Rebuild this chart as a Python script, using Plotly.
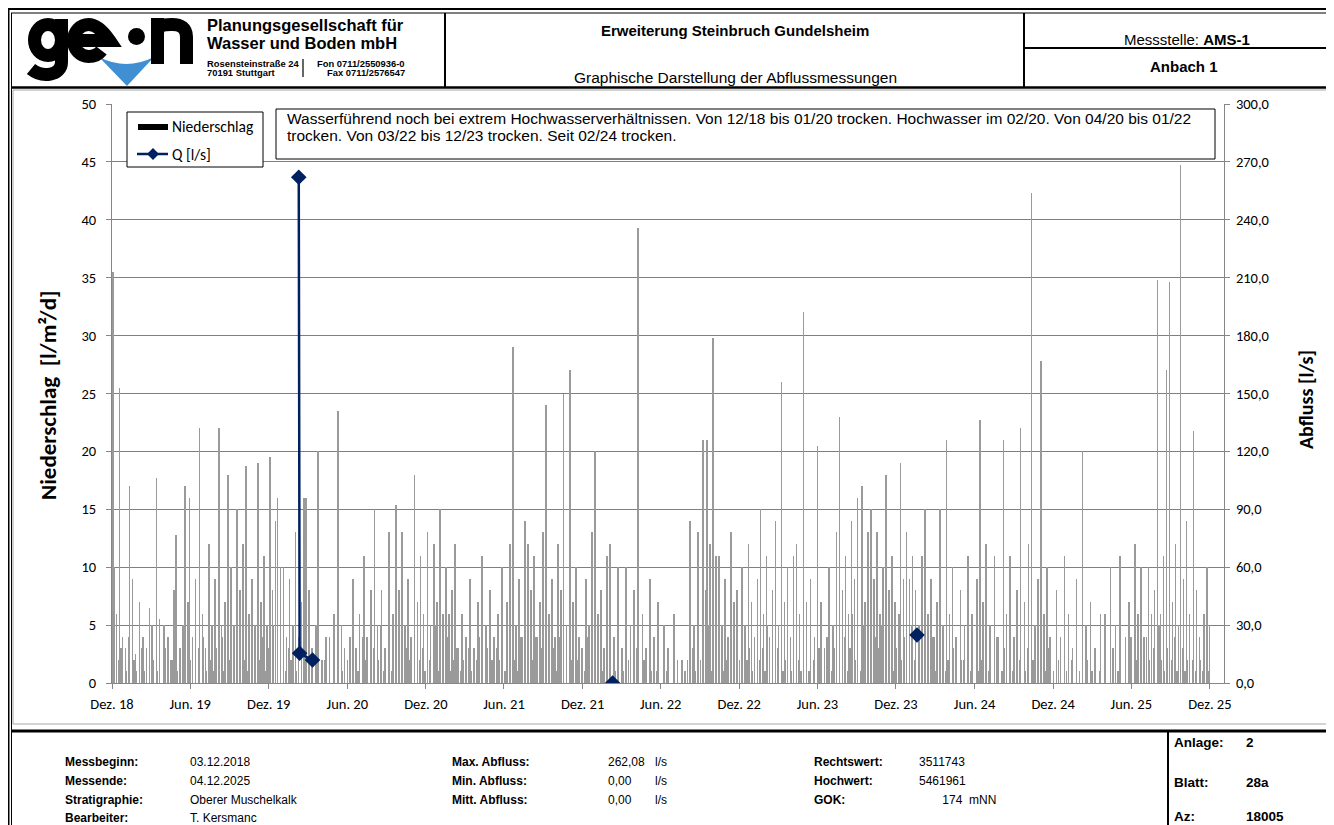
import pandas as pd
import plotly.graph_objects as go

# precipitation peaks (day number since Messbeginn 03.12.2018, mm per day)
rain_day = [2, 6, 11, 18, 25, 32, 41, 48, 55, 64, 72, 81, 88, 97, 104, 111, 121, 130, 137, 144, 149, 158, 165, 170, 177, 181,
            188, 195, 204, 211, 218, 226, 233, 240, 249, 256, 263, 270, 277, 284, 291, 298, 305, 312, 319, 326, 333, 340, 347, 354, 361,
            368, 374, 381, 386, 393, 400, 407, 414, 421, 428, 442, 447, 452, 459, 466, 475, 480, 489, 498, 507, 517, 526, 535, 542,
            554, 561, 568, 577, 587, 594, 603, 612, 619, 628, 636, 645, 654, 661, 668, 675, 682, 689, 696, 705, 712, 719, 726,
            735, 742, 750, 757, 764, 771, 778, 785, 792, 799, 806, 815, 825, 834, 843, 852, 862, 871, 880, 890, 899, 908,
            920, 927, 934, 941, 948, 955, 962, 969, 976, 983, 990, 997, 1004, 1011, 1018, 1025, 1032, 1039, 1046, 1051, 1058, 1067, 1074, 1081, 1088,
            1104, 1111, 1118, 1125, 1132, 1139, 1146, 1153, 1160, 1169, 1179, 1188, 1197, 1207, 1216, 1225, 1235, 1244, 1253, 1262, 1272,
            1286, 1295, 1309, 1328, 1346, 1356, 1365, 1377, 1382, 1386, 1393, 1400, 1407, 1414, 1421, 1428, 1435, 1442, 1449, 1456,
            1467, 1475, 1482, 1489, 1496, 1503, 1510, 1517, 1524, 1531, 1538, 1545, 1552, 1559, 1566, 1573, 1580, 1587, 1594, 1601, 1610, 1617, 1627, 1636, 1643,
            1651, 1660, 1670, 1679, 1688, 1695, 1702, 1709, 1716, 1723, 1730, 1737, 1747, 1754, 1761, 1768, 1775, 1782, 1789, 1796, 1803, 1810, 1817, 1824,
            1836, 1843, 1850, 1857, 1864, 1871, 1880, 1887, 1894, 1901, 1908, 1915, 1922, 1929, 1936, 1943, 1950, 1957, 1966, 1976, 1985, 1994, 2003,
            2015, 2022, 2029, 2036, 2045, 2055, 2064, 2076, 2083, 2092, 2101, 2108, 2116, 2125, 2134, 2141, 2150, 2157, 2164, 2171, 2178, 2185,
            2200, 2209, 2218, 2228, 2237, 2246, 2260, 2269, 2279, 2290, 2302, 2313, 2325, 2337, 2348, 2360, 2369,
            2383, 2390, 2397, 2404, 2414, 2421, 2428, 2435, 2442, 2449, 2456, 2463, 2470, 2477, 2484, 2489, 2496, 2503, 2510, 2519, 2526, 2533, 2543, 2550, 2556]
rain_mm = [35.5, 10, 6, 25.5, 4, 3, 17, 9, 2.5, 7, 4, 3, 6.5, 2, 17.7, 3.5, 5, 4, 2, 8, 12.8, 3, 5, 17, 6, 16,
           4, 8, 22, 6, 3, 12, 5, 9, 22, 4, 7, 18, 10, 5, 14, 8, 12, 18.7, 6, 9, 4, 19, 7, 11, 5,
           19.5, 8, 12, 16, 6, 10, 4, 9, 5, 13, 7, 14, 16, 7, 3, 5, 20, 2, 4, 3, 6, 23.5, 5, 3,
           4, 9, 3, 6, 11, 4, 7, 15, 5, 8, 3, 10, 6, 15.4, 8, 12, 5, 9, 4, 17, 7, 11, 6,
           9, 5, 12, 7, 15, 4, 10, 6, 8, 12, 3, 6, 4, 9, 3, 7, 11, 5, 8, 4, 6, 10,
           7, 12, 29, 5, 9, 4, 14, 6, 8, 11, 4, 7, 13, 19, 6, 9, 4, 12, 8, 25, 5, 27, 7, 10, 4,
           9, 5, 13, 20, 6, 8, 3, 11, 12, 4, 7, 3, 10, 5, 8, 39.3, 6, 3, 9, 4, 7,
           5, 3, 6, 2, 14, 5, 9, 21, 8, 21, 12, 29.8, 7, 11, 5, 9, 4, 13, 6, 8,
           10, 5, 12, 7, 4, 9, 15, 6, 11, 4, 8, 13, 5, 26, 7, 10, 4, 8, 12, 6, 32, 5, 9, 4, 20.5,
           7, 3, 10, 5, 13, 18, 8, 11, 6, 14, 9, 12, 17, 7, 11, 15, 9, 13, 6, 10, 14, 8, 11, 7,
           19, 9, 13, 6, 11, 8, 5, 10, 15, 6, 9, 4, 7, 12, 5, 21, 6, 10, 4, 8, 5, 11, 6,
           9, 22.7, 7, 12, 5, 9, 4, 21, 6, 11, 4, 8, 22, 7, 12, 42.3, 5, 9, 27.8, 6, 10, 4,
           8, 4, 11, 6, 3, 9, 20, 5, 7, 3, 6, 4, 9, 5, 11, 4, 7,
           12, 6, 9, 4, 10, 5, 8, 34.8, 6, 11, 27, 34.6, 7, 12, 5, 44.7, 9, 14, 6, 21.8, 8, 4, 6, 10, 5]

rain_small_mm = [
    1, 0, 2, 3, 0, 1, 4, 0, 2, 1, 0, 3, 1, 0, 2, 5, 0, 1, 2, 0, 3, 1, 0, 2, 0, 1, 3, 0, 2, 1,
    2, 0, 1, 3, 0, 4, 1, 0, 2, 1, 3, 0, 5, 1, 0, 2, 3, 0, 1, 4, 0, 2, 1, 0, 3, 1, 0, 2, 4, 1,
    3, 1, 5, 2, 0, 4, 6, 1, 3, 2, 5, 1, 4, 7, 2, 3, 1, 0, 0, 1, 0, 0, 2, 0, 1, 0, 0, 3, 0, 1,
    0, 2, 1, 0, 3, 1, 0, 4, 2, 0, 1, 3, 0, 2, 5, 1, 0, 3, 1, 0, 2, 4, 1, 0, 3, 2, 0, 1, 4, 2,
    3, 1, 4, 2, 0, 5, 1, 3, 2, 0, 4, 1, 2, 3, 0, 1, 2, 0, 3, 1, 0, 2, 4, 1, 0, 3, 1, 2, 0, 3,
    2, 4, 1, 3, 0, 5, 2, 1, 4, 0, 3, 6, 1, 2, 4, 0, 3, 1, 5, 2, 0, 3, 1, 4, 2, 0, 1, 3, 2, 0,
    2, 0, 3, 1, 4, 0, 1, 0, 2, 0, 1, 0, 0, 2, 0, 1, 3, 0, 1, 0, 2, 0, 1, 3, 0, 0, 2, 1, 0, 1,
    0, 1, 0, 0, 0, 1, 0, 0, 0, 2, 0, 0, 1, 2, 0, 3, 1, 4, 2, 0, 3, 5, 1, 2, 4, 0, 3, 1, 2, 0,
    3, 1, 4, 2, 0, 5, 2, 3, 1, 4, 0, 2, 3, 1, 5, 0, 2, 1, 3, 0, 1, 2, 0, 1, 3, 0, 2, 1, 0, 2,
    1, 0, 2, 0, 3, 1, 0, 4, 2, 1, 3, 0, 5, 2, 4, 1, 3, 6, 2, 4, 1, 5, 3, 2, 6, 1, 4, 3, 5, 2,
    4, 2, 5, 1, 3, 6, 2, 4, 1, 3, 5, 2, 0, 4, 1, 3, 2, 0, 4, 1, 2, 3, 0, 1, 2, 0, 3, 1, 0, 2,
    2, 0, 3, 1, 0, 4, 1, 2, 0, 3, 1, 0, 2, 4, 0, 1, 3, 0, 2, 1, 0, 4, 2, 0, 1, 3, 0, 2, 1, 0,
    2, 0, 1, 3, 0, 1, 0, 2, 0, 0, 1, 0, 2, 0, 0, 1, 0, 0, 2, 0, 1, 0, 0, 1, 0, 2, 0, 1, 3, 0,
    1, 3, 0, 2, 1, 4, 0, 2, 3, 1, 0, 4, 2, 1, 3, 0, 5, 2, 1, 3, 0, 2, 4, 1, 0, 3, 1, 2, 0, 2,
    1, 0, 2, 1, 0, 1, 0]

# discharge Q [l/s]; None = no measurement (gap in line)
q_dates = ["2020-02-11", "2020-02-13", "2020-03-14", "2021-01-01", "2022-02-11", "2023-01-01", "2024-01-21"]
q_values = [262.08, 15.4, 11.9, None, 0.0, None, 24.9]

tick_dates = ["2018-12-03", "2019-06-03", "2019-12-03", "2020-06-03", "2020-12-03", "2021-06-03", "2021-12-03", "2022-06-03",
              "2022-12-03", "2023-06-03", "2023-12-03", "2024-06-03", "2024-12-03", "2025-06-03", "2025-12-03"]
tick_labels = ["Dez. 18", "Jun. 19", "Dez. 19", "Jun. 20", "Dez. 20", "Jun. 21", "Dez. 21", "Jun. 22",
               "Dez. 22", "Jun. 23", "Dez. 23", "Jun. 24", "Dez. 24", "Jun. 25", "Dez. 25"]
left_ticks = [0, 5, 10, 15, 20, 25, 30, 35, 40, 45, 50]
right_ticks = [0, 30, 60, 90, 120, 150, 180, 210, 240, 270, 300]
right_labels = ["0,0", "30,0", "60,0", "90,0", "120,0", "150,0", "180,0", "210,0", "240,0", "270,0", "300,0"]

start = pd.Timestamp("2018-12-03")
all_days = rain_day + [3 + 6 * i for i in range(len(rain_small_mm))]
all_mm = rain_mm + rain_small_mm
rain_dates = [start + pd.Timedelta(days=d) for d in all_days]

# page geometry in page pixels; the html body adds an 8px margin
OFF = 8
W, H = 1334, 825
L, R, T, B = 112, 1224, 104, 683
def fx(px):
    return (px - L) / (R - L)
def fy(py):
    return (B - py) / (B - T)

CAL = "Carlito, Lato, sans-serif"
ARI = "Liberation Sans, Arial, sans-serif"

fig = go.Figure()
fig.add_trace(go.Bar(x=rain_dates, y=all_mm, width=86400000, name="Niederschlag",
                     marker=dict(color="#9a9a9a", line=dict(width=0))))
fig.add_trace(go.Scatter(x=q_dates, y=q_values, yaxis="y2", mode="lines+markers", name="Q [l/s]",
                         line=dict(color="#002060", width=2.5),
                         marker=dict(symbol="diamond", size=12, color="#002060")))

axfont = dict(family=CAL, size=14.5, color="black")
fig.update_layout(
    width=W - OFF, height=H - OFF,
    margin=dict(l=L - OFF, r=W - R, t=T - OFF, b=H - B, pad=0),
    paper_bgcolor="white", plot_bgcolor="white",
    showlegend=False, bargap=0,
    xaxis=dict(type="date", range=["2018-12-03", "2026-01-05"], tickvals=tick_dates, ticktext=tick_labels,
               showgrid=False, showline=True, linecolor="#868686", ticks="outside", ticklen=5, tickcolor="#868686",
               tickfont=axfont, ticklabelstandoff=3),
    yaxis=dict(range=[0, 50], tickvals=left_ticks, showgrid=True, gridcolor="#7f7f7f", gridwidth=1,
               showline=True, linecolor="#868686", ticks="outside", ticklen=5, tickcolor="#868686",
               tickfont=axfont, zeroline=False, ticklabelstandoff=7),
    yaxis2=dict(range=[0, 300], overlaying="y", side="right", tickvals=right_ticks, ticktext=right_labels,
                showgrid=False, showline=True, linecolor="#868686", ticks="outside", ticklen=5, tickcolor="#868686",
                tickfont=axfont, zeroline=False, ticklabelstandoff=3),
)

shapes = []
def line(x0, y0, x1, y1, w=1, c="black"):
    shapes.append(dict(type="line", xref="paper", yref="paper", x0=fx(x0), y0=fy(y0), x1=fx(x1), y1=fy(y1),
                       line=dict(color=c, width=w)))
def rect(x0, y0, x1, y1, w=1, c="black", fill=None):
    shapes.append(dict(type="rect", xref="paper", yref="paper", x0=fx(x0), y0=fy(y0), x1=fx(x1), y1=fy(y1),
                       line=dict(color=c, width=w), fillcolor=fill))
def path(pts, w=0, c="black", fill=None):
    # pts: list of (cmd, x, y, ...) in page pixels
    d = ""
    for p in pts:
        cmd, xy = p[0], p[1:]
        d += cmd + " " + " ".join("%f %f" % (fx(xy[i]), fy(xy[i + 1])) for i in range(0, len(xy), 2)) + " "
    shapes.append(dict(type="path", xref="paper", yref="paper", path=d.strip() + (" Z" if fill else ""),
                       line=dict(color=c, width=w), fillcolor=fill))

# page frame
line(7, 8.5, W + 5, 8.5, 3)
line(11, 13, W + 5, 13, 1)
line(8.5, 8, 8.5, H + 5, 2)
line(11.5, 13, 11.5, H + 5, 1)
# header
line(11, 87.5, W + 5, 87.5, 2.5)
line(445, 13, 445, 87, 2)
line(1024, 13, 1024, 87, 2)
line(1024, 48, W + 5, 48, 2)
# chart area border
rect(13, 90, W + 5, 724, 1, "#a6a6a6")
# footer
line(11, 731, W + 5, 731, 3)
line(1168, 731, 1168, H + 5, 2)
# company divider
line(303, 59, 303, 77, 1.2)

# logo "ge•n" drawn as thick strokes
path([("M", 99, 57), ("Q", 126, 71, 154, 57), ("L", 127, 86)], 0, "#3f8fd2", "#3f8fd2")
k = 0.5523
cx, cy, rx, ry = 48, 40, 13.5, 15.5
path([("M", cx + rx, cy), ("C", cx + rx, cy - k * ry, cx + k * rx, cy - ry, cx, cy - ry),
      ("C", cx - k * rx, cy - ry, cx - rx, cy - k * ry, cx - rx, cy),
      ("C", cx - rx, cy + k * ry, cx - k * rx, cy + ry, cx, cy + ry),
      ("C", cx + k * rx, cy + ry, cx + rx, cy + k * ry, cx + rx, cy)], 13, "black")
path([("M", 61.5, 19), ("L", 61.5, 62), ("C", 61.5, 76, 42, 78, 31, 69)], 13, "black")
cx, cy, rx, ry = 88.5, 40.5, 15, 16
path([("M", 73, cy), ("L", cx + rx + 6, cy), ("C", cx + rx, cy - k * ry, cx + k * rx, cy - ry, cx, cy - ry),
      ("C", cx - k * rx, cy - ry, cx - rx, cy - k * ry, cx - rx, cy),
      ("C", cx - rx, cy + k * ry, cx - k * rx, cy + ry, cx, cy + ry),
      ("C", cx + 5, cy + ry, cx + 10, cy + 14, cx + 13, cy + 10)], 13, "black")
path([("M", 157.5, 64), ("L", 157.5, 18)], 13, "black")
path([("M", 157.5, 34), ("C", 157.5, 24, 165, 24.5, 172, 24.5), ("C", 181, 24.5, 186.5, 28, 186.5, 37), ("L", 186.5, 64)], 13, "black")
shapes.append(dict(type="circle", xref="paper", yref="paper", x0=fx(128), y0=fy(28), x1=fx(145), y1=fy(45),
                   fillcolor="black", line=dict(width=0)))

# legend box
rect(127, 112, 263, 167, 1, "black", "white")
rect(138, 124, 168, 130, 0, "black", "black")
line(137, 154, 168, 154, 2.5, "#002060")
path([("M", 153, 148), ("L", 159, 154), ("L", 153, 160), ("L", 147, 154)], 0, "#002060", "#002060")
# comment box
rect(276, 109, 1215, 159, 1, "black", "white")

fig.update_layout(shapes=shapes)

def txt(x, y, s, size=10, bold=False, fam=ARI, xa="left", ya="middle", angle=0, color="black"):
    if bold:
        s = "<b>" + s + "</b>"
    fig.add_annotation(x=fx(x), y=fy(y), xref="paper", yref="paper", text=s, showarrow=False,
                       xanchor=xa, yanchor=ya, textangle=angle, align=xa if xa != "center" else "center",
                       font=dict(family=fam, size=size, color=color))

# company
txt(205, 25, "Planungsgesellschaft für", 16.5, True)
txt(205, 43, "Wasser und Boden mbH", 16.5, True)
txt(205, 63, "Rosensteinstraße 24", 9.4, True)
txt(205, 72, "70191 Stuttgart", 9.4, True)
txt(407, 63, "Fon 0711/2550936-0", 9.4, True, xa="right")
txt(407, 72, "Fax 0711/2576547", 9.4, True, xa="right")
# titles
txt(735, 30, "Erweiterung Steinbruch Gundelsheim", 15, True, xa="center")
txt(735, 78, "Graphische Darstellung der Abflussmessungen", 15.5, False, xa="center")
txt(1187, 40, "Messstelle: <b>AMS-1</b>", 15, False, xa="center")
txt(1184, 67, "Anbach 1", 15, True, xa="center")

# legend texts
txt(170, 127, "Niederschlag", 15.5, False, CAL)
txt(170, 154, "Q [l/s]", 15.5, False, CAL)
# comment
txt(285, 118, "Wasserführend noch bei extrem Hochwasserverhältnissen. Von 12/18 bis 01/20 trocken. Hochwasser im 02/20. Von 04/20 bis 01/22", 15.5)
txt(285, 135, "trocken. Von 03/22 bis 12/23 trocken. Seit 02/24 trocken.", 15.5)

# axis titles
txt(48, 396, "Niederschlag  [l/m²/d]", 23, True, CAL, xa="center", angle=-90)
txt(1306, 400, "Abfluss [l/s]", 20, True, CAL, xa="center", angle=-90)

# footer
rows = [762, 781, 800, 818]
for y, lab, val in zip(rows, ["Messbeginn:", "Messende:", "Stratigraphie:", "Bearbeiter:"],
                       ["03.12.2018", "04.12.2025", "Oberer Muschelkalk", "T. Kersmanc"]):
    txt(63, y, lab, 12, True)
    txt(188, y, val, 12)
for y, lab, val in zip(rows, ["Max. Abfluss:", "Min. Abfluss:", "Mitt. Abfluss:"], ["262,08", "0,00", "0,00"]):
    txt(450, y, lab, 12, True)
    txt(606, y, val, 12)
    txt(653, y, "l/s", 12)
for y, lab, val in zip(rows, ["Rechtswert:", "Hochwert:", "GOK:"], ["3511743", "5461961", "&nbsp;&nbsp;&nbsp;&nbsp;&nbsp;&nbsp;&nbsp;174&nbsp; mNN"]):
    txt(812, y, lab, 12, True)
    txt(917, y, val, 12)
for y, lab, val in zip([742, 782, 816], ["Anlage:", "Blatt:", "Az:"], ["2", "28a", "18005"]):
    txt(1172, y, lab, 13.5, True)
    txt(1244, y, val, 13.5, True)

fig.write_html("out.html")
